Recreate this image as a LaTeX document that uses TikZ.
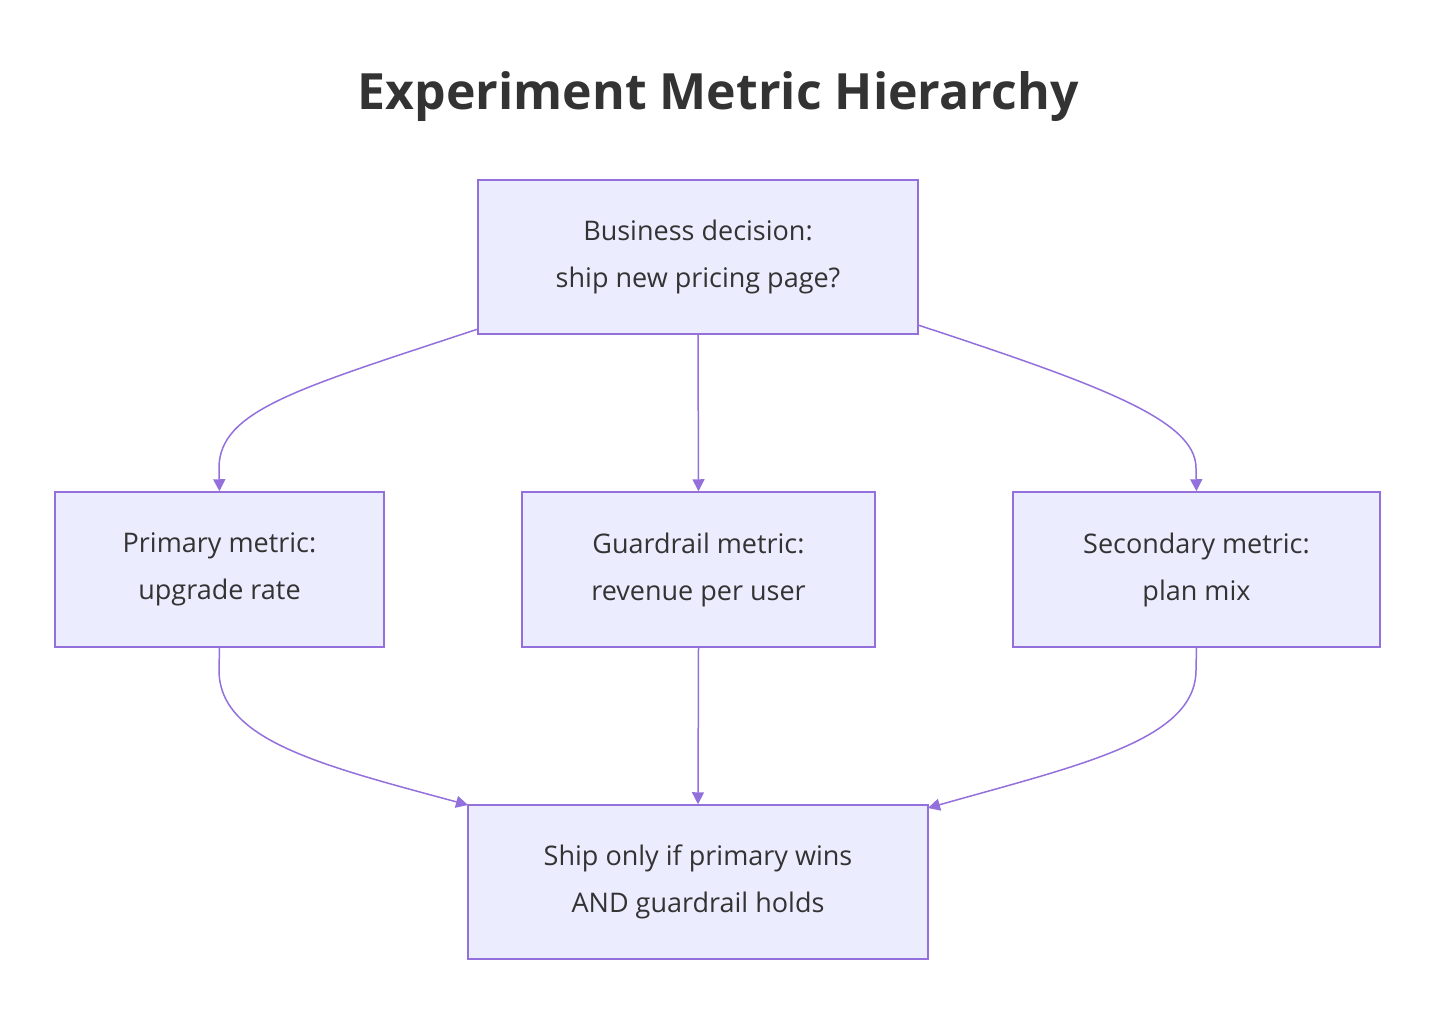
\documentclass[tikz,border=0pt]{standalone}
\usepackage{fontspec}
\setmainfont{Open Sans}
\usetikzlibrary{arrows.meta}
\definecolor{bfill}{HTML}{ECECFF}
\definecolor{bline}{HTML}{9370DB}
\definecolor{txt}{HTML}{333333}
\begin{document}
\begin{tikzpicture}[x=1pt,y=-1pt,
  box/.style={draw=bline,fill=bfill,line width=1.5pt,text=txt,align=center,inner sep=0pt,
    font=\fontsize{27}{47}\selectfont},
  edge/.style={draw=bline,line width=1.5pt,-{Triangle[length=12pt,width=12pt]}}]
\useasboundingbox (0,0) rectangle (1452,1026);
\node[text=txt,font=\fontsize{50}{60}\selectfont\bfseries] (title) at (718,97) {Experiment Metric Hierarchy};
\node[box,minimum width=440pt,minimum height=154pt] (top) at (698,257) {Business decision:\\ship new pricing page?};
\node[box,minimum width=329pt,minimum height=155pt] (p) at (219.5,569.5) {Primary metric:\\upgrade rate};
\node[box,minimum width=353pt,minimum height=155pt] (g) at (698.5,569.5) {Guardrail metric:\\revenue per user};
\node[box,minimum width=367pt,minimum height=155pt] (s) at (1196.5,569.5) {Secondary metric:\\plan mix};
\node[box,minimum width=460pt,minimum height=154pt] (b) at (698,882) {Ship only if primary wins\\AND guardrail holds};
\coordinate (t1) at (478,329);
\coordinate (t2) at (918,325);
\coordinate (b1) at (468,805);
\coordinate (b2) at (928,808);
\draw[edge] (t1) .. controls (300,388) and (219,410) .. (219,468) -- (p.north);
\draw[edge] (top.south) -- (g.north);
\draw[edge] (t2) .. controls (1100,385) and (1196,420) .. (1196,468) -- (s.north);
\draw[edge] (p.south) -- (219,670) .. controls (219,740) and (320,765) .. (b1);
\draw[edge] (g.south) -- (b.north);
\draw[edge] (s.south) -- (1196,670) .. controls (1196,740) and (1080,765) .. (b2);
\end{tikzpicture}
\end{document}
